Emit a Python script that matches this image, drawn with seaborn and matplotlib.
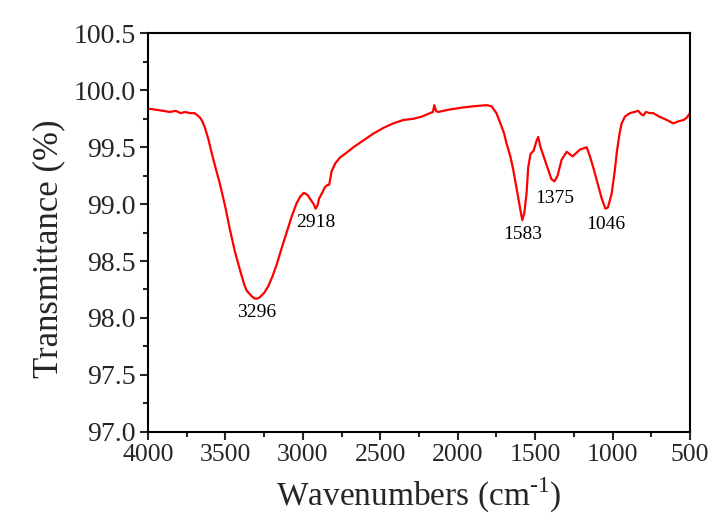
import numpy as np
import pandas as pd
import matplotlib
matplotlib.use("Agg")
import matplotlib.pyplot as plt
from matplotlib.ticker import MultipleLocator, FormatStrFormatter
import seaborn as sns

# FTIR spectrum: wavenumber (cm^-1) and transmittance (%)
wavenumber = [4000, 3950, 3900, 3860, 3820, 3790, 3760, 3730, 3700, 3680,
              3664, 3650, 3632, 3610, 3589, 3560, 3536, 3500, 3470, 3440,
              3406, 3380, 3363, 3330, 3310, 3296, 3280, 3250, 3223, 3195,
              3169, 3140, 3105, 3070, 3040, 3015, 2993, 2970, 2950, 2930,
              2918, 2905, 2895, 2875, 2857, 2840, 2830, 2814, 2790, 2760,
              2720, 2674, 2620, 2545, 2480, 2416, 2350, 2287, 2230, 2179,
              2160, 2151, 2140, 2126, 2060, 1964, 1900, 1813, 1781, 1750,
              1727, 1700, 1684, 1660, 1641, 1620, 1598, 1583, 1570, 1555,
              1545, 1530, 1510, 1490, 1480, 1465, 1440, 1415, 1395, 1375,
              1355, 1329, 1296, 1258, 1210, 1167, 1146, 1120, 1100, 1070,
              1046, 1030, 1006, 985, 973, 955, 941, 920, 888, 860,
              834, 815, 801, 785, 760, 737, 700, 650, 608, 570,
              540, 521, 500]
transmittance = [99.84, 99.83, 99.82, 99.81, 99.82, 99.80, 99.81, 99.80, 99.80, 99.78,
                 99.76, 99.73, 99.67, 99.57, 99.45, 99.30, 99.18, 98.97, 98.77, 98.59,
                 98.42, 98.30, 98.24, 98.19, 98.17, 98.17, 98.18, 98.22, 98.28, 98.37,
                 98.47, 98.60, 98.75, 98.90, 99.01, 99.07, 99.10, 99.08, 99.04, 99.00,
                 98.96, 98.99, 99.05, 99.10, 99.15, 99.17, 99.17, 99.29, 99.36, 99.41,
                 99.45, 99.50, 99.55, 99.62, 99.67, 99.71, 99.74, 99.75, 99.77, 99.80,
                 99.81, 99.87, 99.82, 99.81, 99.83, 99.85, 99.86, 99.87, 99.86, 99.80,
                 99.72, 99.62, 99.53, 99.42, 99.30, 99.14, 98.97, 98.86, 98.92, 99.10,
                 99.32, 99.44, 99.47, 99.56, 99.59, 99.50, 99.40, 99.30, 99.22, 99.20,
                 99.25, 99.39, 99.46, 99.42, 99.48, 99.50, 99.42, 99.30, 99.20, 99.05,
                 98.96, 98.97, 99.09, 99.30, 99.45, 99.62, 99.71, 99.77, 99.80, 99.81,
                 99.82, 99.79, 99.78, 99.81, 99.80, 99.80, 99.77, 99.74, 99.71, 99.73,
                 99.74, 99.76, 99.80]

# Assigned absorption bands and where their labels sit
band_wn = [3296, 2918, 1583, 1375, 1046]
band_label_y = [98.05, 98.84, 98.73, 99.05, 98.82]

df = pd.DataFrame({"Wavenumber": wavenumber, "Transmittance": transmittance})

sns.set_style("ticks")
plt.rcParams["font.family"] = ["Liberation Serif", "DejaVu Serif"]
plt.rcParams["mathtext.fontset"] = "custom"
plt.rcParams["mathtext.rm"] = "Liberation Serif"

fig = plt.figure(figsize=(7.13, 5.15), dpi=100)
ax = fig.add_axes([0.2076, 0.1617, 0.7601, 0.7733])

sns.lineplot(data=df, x="Wavenumber", y="Transmittance", ax=ax,
             color="#ff0000", linewidth=1.6, sort=False)

for wn, ly in zip(band_wn, band_label_y):
    ax.text(wn, ly, str(wn), ha="center", va="center", fontsize=14, color="black")

ax.set_xlim(4000, 500)
ax.set_ylim(97.0, 100.5)
ax.xaxis.set_major_locator(MultipleLocator(500))
ax.xaxis.set_minor_locator(MultipleLocator(250))
ax.yaxis.set_major_locator(MultipleLocator(0.5))
ax.yaxis.set_minor_locator(MultipleLocator(0.25))
ax.yaxis.set_major_formatter(FormatStrFormatter("%.1f"))

ax.tick_params(which="major", direction="out", length=6, width=1.5,
               pad=3, top=False, right=False)
ax.tick_params(axis="x", which="major", labelsize=18.5)
ax.tick_params(axis="y", which="major", labelsize=20)
ax.tick_params(which="minor", direction="out", length=3.5, width=1.5,
               top=False, right=False)
for side in ["left", "right", "top", "bottom"]:
    ax.spines[side].set_visible(True)
    ax.spines[side].set_linewidth(1.5)
    ax.spines[side].set_color("black")

ax.set_xlabel("Wavenumbers (cm$^{\\mathregular{\\text{-}1}}$)", fontsize=24, labelpad=7)
ax.set_ylabel("Transmittance (%)", fontsize=25)
ax.yaxis.set_label_coords(-0.152, 0.46)

fig.savefig("out.png", dpi=100, facecolor="white")
